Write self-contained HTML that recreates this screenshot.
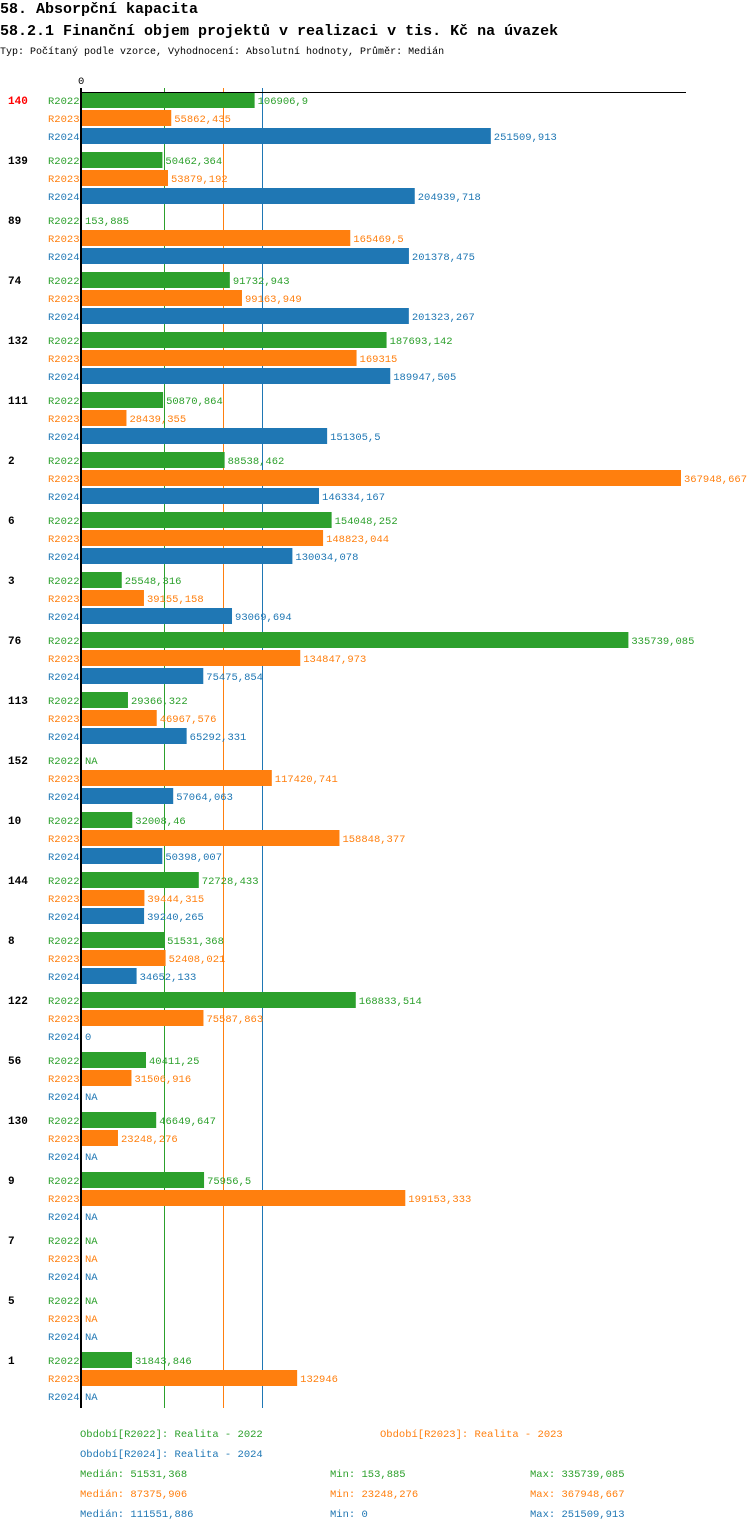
<!DOCTYPE html>
<html><head><meta charset="utf-8"><style>
body{margin:0;background:#fff;width:750px;height:1532px;overflow:hidden;font-family:"Liberation Mono",monospace}
svg text{font-family:"Liberation Mono",monospace}
</style></head><body>
<svg id="c" width="750" height="1532" xmlns="http://www.w3.org/2000/svg">
<text x="0" y="13" font-size="15" font-weight="bold" fill="#000">58. Absorpční kapacita</text>
<text x="0" y="35" font-size="15" font-weight="bold" fill="#000">58.2.1 Finanční objem projektů v realizaci v tis. Kč na úvazek</text>
<text x="0" y="54" font-size="10" fill="#000">Typ: Počítaný podle vzorce, Vyhodnocení: Absolutní hodnoty, Průměr: Medián</text>
<g id="g"></g>
</svg>
<script>
const categories=["140","139","89","74","132","111","2","6","3","76","113","152","10","144","8","122","56","130","9","7","5","1"];
const r2022=[106906.9,50462.364,153.885,91732.943,187693.142,50870.864,88538.462,154048.252,25548.316,335739.085,29366.322,null,32008.46,72728.433,51531.368,168833.514,40411.25,46649.647,75956.5,null,null,31843.846];
const r2022Labels=["106906,9","50462,364","153,885","91732,943","187693,142","50870,864","88538,462","154048,252","25548,316","335739,085","29366,322","NA","32008,46","72728,433","51531,368","168833,514","40411,25","46649,647","75956,5","NA","NA","31843,846"];
const r2023=[55862.435,53879.192,165469.5,99163.949,169315,28439.355,367948.667,148823.044,39155.158,134847.973,46967.576,117420.741,158848.377,39444.315,52408.021,75587.863,31506.916,23248.276,199153.333,null,null,132946];
const r2023Labels=["55862,435","53879,192","165469,5","99163,949","169315","28439,355","367948,667","148823,044","39155,158","134847,973","46967,576","117420,741","158848,377","39444,315","52408,021","75587,863","31506,916","23248,276","199153,333","NA","NA","132946"];
const r2024=[251509.913,204939.718,201378.475,201323.267,189947.505,151305.5,146334.167,130034.078,93069.694,75475.854,65292.331,57064.063,50398.007,39240.265,34652.133,0,null,null,null,null,null,null];
const r2024Labels=["251509,913","204939,718","201378,475","201323,267","189947,505","151305,5","146334,167","130034,078","93069,694","75475,854","65292,331","57064,063","50398,007","39240,265","34652,133","0","NA","NA","NA","NA","NA","NA"];
const medians=[51531.368,87375.906,111551.886];
const seriesNames=["R2022","R2023","R2024"];
const colors=["#2ca02c","#ff7f0e","#1f77b4"];
const X0=80, K=601/367948.667;
const xs=v=>X0+v*K;
const NS="http://www.w3.org/2000/svg";
const g=document.getElementById('g');
function mk(t,a,txt){const e=document.createElementNS(NS,t);for(const k in a)e.setAttribute(k,a[k]);if(txt!==undefined)e.textContent=txt;g.appendChild(e);return e;}
const top0=92, gh=60, bottom=top0+categories.length*gh;
const series=[r2022,r2023,r2024], labels=[r2022Labels,r2023Labels,r2024Labels];
medians.forEach((m,j)=>{
  const l=mk('line',{x1:Math.round(xs(m))+0.5,x2:Math.round(xs(m))+0.5,y1:88,y2:bottom-4,stroke:colors[j],'stroke-width':1});
  
  
});
categories.forEach((c,i)=>{
  const y=top0+i*gh;
  const t=mk('text',{x:8,y:y+12,'font-size':11,'font-weight':'bold',fill:i===0?'#f00':'#000'},c);
  
  
  series.forEach((s,j)=>{
    const by=y+j*18;
    const lt=mk('text',{x:48,y:by+12,'font-size':10.5,fill:colors[j]},seriesNames[j]);
    
    
    let end=X0+2;
    if(s[i]!==null){
      end=Math.max(X0+2,xs(s[i]));
      const r=mk('rect',{x:X0,y:by,width:Math.max(0,xs(s[i])-X0),height:16,fill:colors[j]});
      
      
    }
    const vt=mk('text',{x:end+3,y:by+12,'font-size':10.5,fill:colors[j]},labels[j][i]);
    
    
  });
});
const ax=mk('line',{x1:81,x2:81,y1:88,y2:bottom-4,stroke:'#000','stroke-width':2});


const tl=mk('line',{x1:80,x2:686,y1:92.5,y2:92.5,stroke:'#000','stroke-width':1});


const z=mk('text',{x:78,y:84,'font-size':10.5,fill:'#000'},'0');


const leg=[[80,1437,0,'Období[R2022]: Realita - 2022'],[380,1437,1,'Období[R2023]: Realita - 2023'],[80,1457,2,'Období[R2024]: Realita - 2024'],
[80,1477,0,'Medián: 51531,368'],[330,1477,0,'Min: 153,885'],[530,1477,0,'Max: 335739,085'],
[80,1497,1,'Medián: 87375,906'],[330,1497,1,'Min: 23248,276'],[530,1497,1,'Max: 367948,667'],
[80,1517,2,'Medián: 111551,886'],[330,1517,2,'Min: 0'],[530,1517,2,'Max: 251509,913']];
leg.forEach(l=>{
  const t=mk('text',{x:l[0],y:l[1],'font-size':10.5,fill:colors[l[2]]},l[3]);
  
  
});
</script>
</body></html>
